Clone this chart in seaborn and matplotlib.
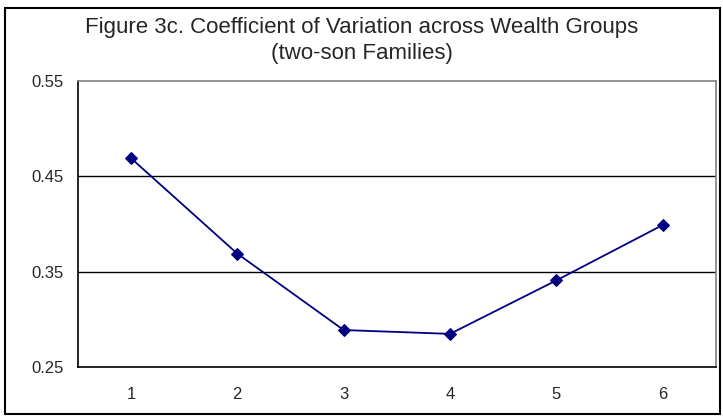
import matplotlib
matplotlib.use("Agg")
import matplotlib.pyplot as plt
import seaborn as sns
import pandas as pd

# data
groups = [1, 2, 3, 4, 5, 6]
cv_values = [0.469, 0.369, 0.289, 0.285, 0.341, 0.399]
y_ticks = [0.25, 0.35, 0.45, 0.55]

df = pd.DataFrame({"group": groups, "cv": cv_values})

sns.set_style("white")
plt.rcParams["font.family"] = ["Liberation Sans", "DejaVu Sans"]

fig = plt.figure(figsize=(7.23, 4.16), dpi=100)
ax = fig.add_axes([77.7 / 723, 1 - 367.3 / 416, (716 - 77.7) / 723, (367.3 - 80.7) / 416])

sns.lineplot(data=df, x="group", y="cv", ax=ax, color="#000080", marker="D",
             markersize=6, markeredgecolor="#000080", linewidth=1.3)

ax.set_xlim(0.5, 6.5)
ax.set_ylim(0.25, 0.55)
ax.set_yticks(y_ticks)
ax.set_yticklabels([f"{v:.2f}" for v in y_ticks])
for v in y_ticks[1:3]:
    ax.axhline(v, color="black", linewidth=1.0, zorder=0)

# x ticks between categories, labels in the centre
ax.set_xticks([i + 0.5 for i in range(0, 7)])
ax.set_xticklabels([])
ax.set_xticks(groups, minor=True)
ax.set_xticklabels([str(g) for g in groups], minor=True)
ax.tick_params(axis="x", which="minor", length=0, pad=14, labelsize=12)
ax.tick_params(axis="x", which="major", length=6, direction="out", color="black", width=1)
ax.tick_params(axis="y", length=6, direction="out", color="black", width=1, labelsize=12, pad=4)

ax.set_xlabel("")
ax.set_ylabel("")
ax.spines["left"].set_color("black")
ax.spines["bottom"].set_color("black")
ax.spines["top"].set_color("#808080")
ax.spines["right"].set_color("#808080")
for s in ax.spines.values():
    s.set_linewidth(1.2)

fig.text(0.5, 1 - 28 / 416, "Figure 3c. Coefficient of Variation across Wealth Groups",
         ha="center", va="center", fontsize=16)
fig.text(0.5, 1 - 53 / 416, "(two-son Families)", ha="center", va="center", fontsize=16)

# outer chart border
border = plt.Rectangle((5 / 723, 1 - 414 / 416), 715 / 723, 406 / 416, transform=fig.transFigure,
                       fill=False, edgecolor="black", linewidth=1.5)
fig.patches.append(border)

fig.savefig("out.png", dpi=100)
